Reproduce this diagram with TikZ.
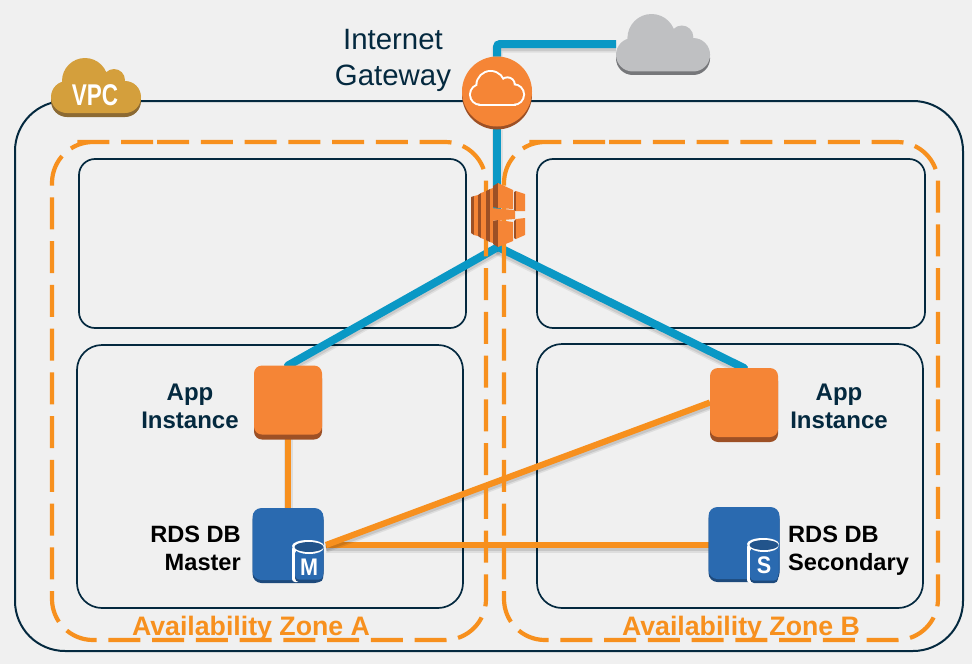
\documentclass[tikz,border=0pt]{standalone}
\usepackage{fontspec}
\setmainfont{Liberation Sans}
\usetikzlibrary{shadows}
\definecolor{pagebg}{HTML}{F0F0F0}
\definecolor{navy}{HTML}{04293F}
\definecolor{zoneorange}{HTML}{F7901E}
\definecolor{awsorange}{HTML}{F58536}
\definecolor{awsdark}{HTML}{9D5025}
\definecolor{linkblue}{HTML}{0A98C5}
\definecolor{vpcgold}{HTML}{D49F3C}
\definecolor{vpcdark}{HTML}{8C6A33}
\definecolor{cloudgrey}{HTML}{BFC0C2}
\definecolor{clouddark}{HTML}{76777A}
\definecolor{rdsblue}{HTML}{2A6AB0}
\definecolor{rdsdark}{HTML}{1E4A7C}
\pgfdeclarelayer{boxes}
\pgfdeclarelayer{links}
\pgfdeclarelayer{zones}
\pgfsetlayers{boxes,links,zones,main}
\newcommand{\cloudbody}[4]{%
  \fill[#4,shift={(#1,#2)},scale=#3] (34,23) circle[radius=23pt] (63,22) circle[radius=11pt]
    (16,39) circle[radius=16pt] (74,39) circle[radius=16pt] (16,23) rectangle (74,55);}
\newcommand{\cloudline}[3]{%
  \filldraw[white,line width=4pt,shift={(#1,#2)},scale=#3] (34,23) circle[radius=23pt] (63,22) circle[radius=11pt]
    (16,39) circle[radius=16pt] (74,39) circle[radius=16pt] (16,23) rectangle (74,55);
  \fill[awsorange,shift={(#1,#2)},scale=#3] (34,23) circle[radius=23pt] (63,22) circle[radius=11pt]
    (16,39) circle[radius=16pt] (74,39) circle[radius=16pt] (16,23) rectangle (74,55);}
\newcommand{\dbcyl}[4]{% x0, ytop, ybot, letter
  \fill[white] (#1+16,#2+6) ellipse[x radius=16pt,y radius=6pt];
  \fill[white,rounded corners=3pt] (#1,#2+6) rectangle (#1+8,#3);
  \fill[rdsdark,rounded corners=4pt] (#1+3,#2+10) rectangle (#1+31,#3);
  \fill[rdsblue,rounded corners=4pt] (#1+3,#2+10) rectangle (#1+31,#3-2.5);
  \fill[white] (#1+17,#2+8) ellipse[x radius=14.5pt,y radius=6pt];
  \fill[rdsdark!70!rdsblue] (#1+17,#2+7) ellipse[x radius=14.5pt,y radius=5pt];
  \node[dbletter] (letter#4) at (#1+17,#2+27) {#4};}
\tikzset{
  vpcbox/.style={draw=navy,line width=2pt,rounded corners=50pt,inner sep=0pt,outer sep=0pt},
  subnetbox/.style={draw=navy,line width=1.7pt,inner sep=0pt,outer sep=0pt},
  zoneline/.style={draw=zoneorange,line width=4.2pt,rounded corners=41pt,dash pattern=on 32pt off 11.75pt},
  bluelink/.style={draw=linkblue,line width=8pt,
    preaction={draw=black,opacity=.07,line width=11pt,transform canvas={yshift=-3pt}},
    preaction={draw=black,opacity=.09,line width=8pt,transform canvas={yshift=-3pt}}},
  orangelink/.style={draw=zoneorange,line width=6.2pt,
    preaction={draw=black,opacity=.08,line width=9pt,transform canvas={yshift=-3pt}},
    preaction={draw=black,opacity=.10,line width=6pt,transform canvas={yshift=-3pt}}},
  appnode/.style={fill=awsorange,rounded corners=8pt,minimum width=68pt,minimum height=69pt,inner sep=0pt,outer sep=0pt,
    general shadow={fill=awsdark,shadow yshift=-5pt}},
  rdsnode/.style={fill=rdsblue,rounded corners=9pt,minimum width=71pt,minimum height=72pt,inner sep=0pt,outer sep=0pt,
    general shadow={fill=rdsdark,shadow yshift=-3pt}},
  ghost/.style={inner sep=0pt,outer sep=0pt},
  dbletter/.style={text=white,font=\bfseries\fontsize{24}{24}\selectfont,inner sep=0pt,xscale=.9},
  apptext/.style={text=navy,font=\bfseries\fontsize{24}{28}\selectfont,align=center,inner sep=0pt},
  rdstext/.style={text=black,font=\bfseries\fontsize{23.6}{28}\selectfont,inner sep=0pt},
  zonetext/.style={text=zoneorange,font=\bfseries\fontsize{26.7}{28}\selectfont,inner sep=0pt,anchor=base},
  gwtext/.style={text=navy,font=\fontsize{29.4}{36}\selectfont,align=center,inner sep=0pt},
  elbface/.style={fill=awsorange},
  elbside/.style={fill=awsdark},
}
\begin{document}
\begin{tikzpicture}[x=1pt,y=-1pt]
\useasboundingbox (0,0) rectangle (972,664);

% ---- boxes
\begin{pgfonlayer}{boxes}
\fill[pagebg] (0,0) rectangle (972,664);
\node[vpcbox,minimum width=948pt,minimum height=550pt] (vpc) at (489,376) {};
\node[subnetbox,rounded corners=16pt,minimum width=387pt,minimum height=169pt] (pubA) at (272.5,243.5) {};
\node[subnetbox,rounded corners=16pt,minimum width=388pt,minimum height=169pt] (pubB) at (731,243.5) {};
\node[subnetbox,rounded corners=25pt,minimum width=386pt,minimum height=263pt] (privA) at (270,476.5) {};
\node[subnetbox,rounded corners=25pt,minimum width=386pt,minimum height=264pt] (privB) at (730,476) {};
\end{pgfonlayer}

% ---- availability zones
\begin{pgfonlayer}{zones}
\draw[zoneline] (116,142) -- (486,142) -- (486,640) -- (52,640) -- (52,142) -- cycle;
\draw[zoneline] (568,142) -- (938,142) -- (938,640) -- (504,640) -- (504,142) -- cycle;
\end{pgfonlayer}

% ---- VPC cloud
\cloudbody{51}{62}{1}{vpcdark}
\cloudbody{51}{58}{1}{vpcgold}
\node[ghost,text=white,font=\bfseries\fontsize{30}{30}\selectfont,xscale=.75] (vpclabel) at (95,95) {VPC};

% ---- internet cloud
\node[ghost,minimum width=94pt,minimum height=60pt] (inet) at (663,44) {};
\cloudbody{616}{17.5}{1.045}{clouddark}
\cloudbody{616}{14}{1.045}{cloudgrey}

% ---- internet gateway
\fill[awsdark] (497,94.5) circle[radius=35pt];
\node[circle,fill=awsorange,minimum size=70pt,inner sep=0pt,outer sep=0pt] (igw) at (497,91.5) {};
\cloudline{471}{72}{.578}
\node[gwtext] (gwlabel) at (393,60) {Internet\\Gateway};

% ---- load balancer
\node[ghost,minimum width=54pt,minimum height=64pt] (elb) at (498,215) {};
\fill[elbside] (471,197) -- (474,196) -- (474,235) -- (471,233) -- cycle;
\fill[elbface] (474,196) -- (478,195) -- (478,236) -- (474,235) -- cycle;
\fill[elbside] (478,195) -- (481,193) -- (481,238) -- (478,236) -- cycle;
\fill[elbface] (481,193) -- (486,191) -- (486,240) -- (481,238) -- cycle;
\fill[elbside] (486,191) -- (490,189) -- (490,242) -- (486,240) -- cycle;
\fill[elbface] (490,189) -- (493,188) -- (493,243) -- (490,242) -- cycle;
\fill[elbface] (490,208) -- (515,210) -- (515,219) -- (490,221) -- cycle;
\fill[elbside] (493,186) -- (498,183) -- (498,208) -- (493,207) -- cycle;
\fill[elbface] (498,183) -- (513,190) -- (513,209) -- (498,208) -- cycle;
\fill[elbside] (493,221) -- (498,220) -- (498,247) -- (493,244) -- cycle;
\fill[elbface] (498,220) -- (513,222) -- (513,241) -- (498,247) -- cycle;
\fill[elbside] (514,192) -- (516,191) -- (516,211) -- (514,210) -- cycle;
\fill[elbface] (516,191) -- (525,194) -- (525,211) -- (516,211) -- cycle;
\fill[elbside] (514,221) -- (516,219) -- (516,239) -- (514,238) -- cycle;
\fill[elbface] (516,219) -- (525,218) -- (525,235) -- (516,239) -- cycle;

% ---- instances
\node[appnode] (appA) at (288,400) {};
\node[appnode] (appB) at (744,402.5) {};
\node[apptext] (appAlabel) at (190,406.5) {App\\Instance};
\node[apptext] (appBlabel) at (839,406.5) {App\\Instance};

% ---- databases
\node[rdsnode] (rdsA) at (288,544) {};
\node[rdsnode] (rdsB) at (744,543) {};
\dbcyl{292}{540}{582}{M}
\dbcyl{747}{538}{583}{S}
\coordinate (masterport) at (326,545);
\node[rdstext,anchor=base east] (rdsAa) at (241,542) {RDS DB};
\node[rdstext,anchor=base east] (rdsAb) at (241,570) {Master};
\node[rdstext,anchor=base west] (rdsBa) at (788,542) {RDS DB};
\node[rdstext,anchor=base west] (rdsBb) at (788,570) {Secondary};

% ---- zone captions
\node[zonetext] (zoneA) at (251,635) {Availability Zone A};
\node[zonetext] (zoneB) at (741,635) {Availability Zone B};

% ---- connectors
\begin{pgfonlayer}{links}
\draw[bluelink,rounded corners=3pt] (igw.north) |- (inet.west);
\draw[bluelink] (igw.south) -- (igw.south |- elb.center);
\draw[bluelink,line cap=round] (elb.south) -- (appA.north);
\draw[bluelink,line cap=round] (elb.south) -- (appB.north);
\draw[orangelink] (appA.south) -- (rdsA.north);
\draw[orangelink] (masterport) -- (masterport -| rdsB.west);
\draw[orangelink] (masterport) -- (appB.west);
\end{pgfonlayer}
\end{tikzpicture}
\end{document}
